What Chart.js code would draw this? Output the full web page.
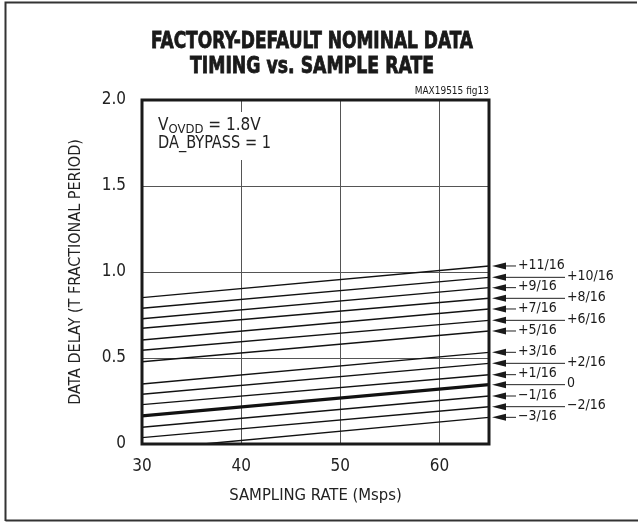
<!DOCTYPE html>
<html>
<head>
<meta charset="utf-8">
<script src="https://cdn.jsdelivr.net/npm/chart.js@4/dist/chart.umd.min.js"></script>
<style>
  html, body { margin: 0; padding: 0; background: #fff; }
  #wrap { width: 638px; height: 522px; }
</style>
</head>
<body>
<div id="wrap"><canvas id="timingChart" width="638" height="522"></canvas></div>
<script>
// delay-code lines at the left and right ends
const codeLabels = ['+11/16', '+10/16', '+9/16', '+8/16', '+7/16', '+6/16', '+5/16',
                    '+3/16', '+2/16', '+1/16', '0', '-1/16', '-2/16', '-3/16'];
const rateStart = [30, 30, 30, 30, 30, 30, 30, 30, 30, 30, 30, 30, 30, 36.2];
const delayStart = [0.851, 0.789, 0.728, 0.673, 0.605, 0.545, 0.478,
                    0.349, 0.289, 0.229, 0.163, 0.097, 0.037, 0];
const rateEnd = [65, 65, 65, 65, 65, 65, 65, 65, 65, 65, 65, 65, 65, 65];
const delayEnd = [1.035, 0.969, 0.909, 0.847, 0.785, 0.719, 0.657,
                  0.533, 0.469, 0.403, 0.345, 0.279, 0.217, 0.155];
const xTicks = [30, 40, 50, 60];
const yTicks = [0, 0.5, 1.0, 1.5, 2.0];

const FONT = "'Liberation Sans Narrow', 'DejaVu Sans Condensed', 'Liberation Sans', sans-serif";
const longLeader = ['+10/16', '+8/16', '+6/16', '+2/16', '0', '-2/16'];

const datasets = codeLabels.map((label, i) => ({
    label: label,
    data: [{ x: rateStart[i], y: delayStart[i] }, { x: rateEnd[i], y: delayEnd[i] }],
    borderColor: '#111',
    borderWidth: label === '0' ? 3.2 : 1.4,
    pointRadius: 0,
    tension: 0,
    fill: false
}));

const decorations = {
    id: 'decorations',
    beforeDatasetsDraw(chart) {
        const ctx = chart.ctx;
        // white box behind the condition text (gridline breaks there)
        ctx.save();
        ctx.fillStyle = '#fff';
        ctx.fillRect(155, 112, 120, 48);
        ctx.fillStyle = '#222';
        ctx.textBaseline = 'alphabetic';
        ctx.font = '17px ' + FONT;
        ctx.fillText('V', 158, 130);
        let x = 158 + ctx.measureText('V').width;
        ctx.font = '13px ' + FONT;
        ctx.fillText('OVDD', x, 133);
        x += ctx.measureText('OVDD').width;
        ctx.font = '17px ' + FONT;
        ctx.fillText(' = 1.8V', x, 130);
        ctx.fillText('DA_BYPASS = 1', 158, 148, 113);
        ctx.restore();
    },
    afterDraw(chart) {
        const ctx = chart.ctx;
        const area = chart.chartArea;
        const ys = chart.scales.y;
        ctx.save();
        // outer frame
        ctx.strokeStyle = '#333';
        ctx.lineWidth = 2;
        ctx.beginPath();
        ctx.moveTo(5.5, 521);
        ctx.lineTo(5.5, 2.5);
        ctx.lineTo(637, 2.5);
        ctx.moveTo(5.5, 520.5);
        ctx.lineTo(638, 520.5);
        ctx.stroke();
        // plot frame
        ctx.strokeStyle = '#1a1a1a';
        ctx.lineWidth = 3;
        ctx.strokeRect(area.left, area.top, area.right - area.left, area.bottom - area.top);

        // title
        ctx.fillStyle = '#1a1a1a';
        ctx.strokeStyle = '#1a1a1a';
        ctx.lineWidth = 0.8;
        ctx.textAlign = 'center';
        ctx.textBaseline = 'middle';
        ctx.font = 'bold 23px ' + FONT;
        ctx.fillText('FACTORY-DEFAULT NOMINAL DATA', 312, 42, 322);
        ctx.strokeText('FACTORY-DEFAULT NOMINAL DATA', 312, 42, 322);
        ctx.fillText('TIMING vs. SAMPLE RATE', 312, 67, 244);
        ctx.strokeText('TIMING vs. SAMPLE RATE', 312, 67, 244);
        ctx.font = '10px ' + FONT;
        ctx.textAlign = 'right';
        ctx.fillText('MAX19515 fig13', area.right, 91);

        // arrows and code labels on the right
        ctx.textAlign = 'left';
        ctx.font = '14px ' + FONT;
        ctx.lineWidth = 1;
        ctx.strokeStyle = '#222';
        codeLabels.forEach((label, i) => {
            const y = ys.getPixelForValue(delayEnd[i]);
            const tip = area.right + 3;
            const base = tip + 14;
            ctx.beginPath();
            ctx.moveTo(tip, y);
            ctx.lineTo(base, y - 3.5);
            ctx.lineTo(base, y + 3.5);
            ctx.closePath();
            ctx.fill();
            const end = longLeader.includes(label) ? area.right + 76 : area.right + 27;
            ctx.beginPath();
            ctx.moveTo(base, y);
            ctx.lineTo(end, y);
            ctx.stroke();
            ctx.fillText(label.replace('-', '\u2212'), end + 2, y - 1);
        });
        ctx.restore();
    }
};

new Chart(document.getElementById('timingChart'), {
    type: 'line',
    data: { datasets: datasets },
    options: {
        responsive: false,
        animation: false,
        layout: { padding: { left: 62, right: 149, top: 100, bottom: 12 } },
        plugins: {
            legend: { display: false },
            tooltip: { enabled: false },
            title: { display: false }
        },
        scales: {
            x: {
                type: 'linear',
                min: 30,
                max: 65,
                afterBuildTicks: (scale) => { scale.ticks = xTicks.map(v => ({ value: v })); },
                afterFit: (scale) => { scale.height = 66; },
                ticks: { color: '#222', padding: 12, font: { family: FONT, size: 17 } },
                grid: { color: '#555', lineWidth: 1, drawTicks: false },
                border: { display: false },
                title: {
                    display: true,
                    text: 'SAMPLING RATE (Msps)',
                    color: '#222',
                    font: { family: FONT, size: 16.5 }
                }
            },
            y: {
                min: 0,
                max: 2,
                afterBuildTicks: (scale) => { scale.ticks = yTicks.map(v => ({ value: v })); },
                afterFit: (scale) => { scale.width = 80; },
                ticks: {
                    color: '#222',
                    padding: 16,
                    font: { family: FONT, size: 17 },
                    callback: (v) => v === 0 ? '0' : v.toFixed(1)
                },
                grid: { color: '#555', lineWidth: 1, drawTicks: false },
                border: { display: false },
                title: {
                    display: true,
                    text: 'DATA DELAY (T FRACTIONAL PERIOD)',
                    color: '#222',
                    font: { family: FONT, size: 16 }
                }
            }
        }
    },
    plugins: [decorations]
});
</script>
</body>
</html>
